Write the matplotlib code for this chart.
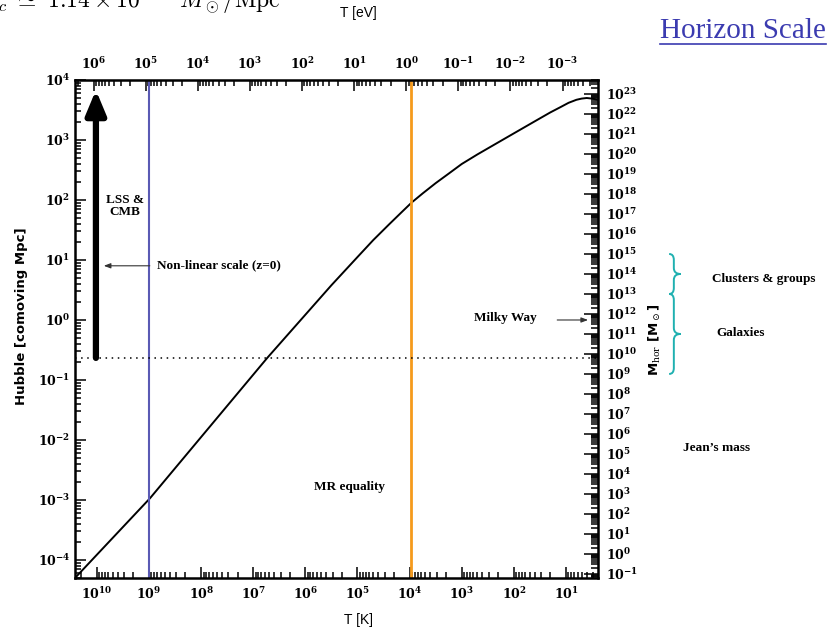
import numpy as np
import matplotlib.pyplot as plt
from matplotlib import ticker, transforms
from matplotlib.path import Path
from matplotlib.patches import PathPatch

# comoving Hubble radius vs temperature
T_K = [2.63e10, 9.55e8, 5.37e6, 3.16e5, 1.0e5, 5.0e4, 2.5e4, 1.41e4, 9.1e3, 5.6e3,
       3.16e3, 1.78e3, 1.0e3, 500, 251, 100, 40, 20, 12.6, 8.9, 6.3, 5.0, 4.0, 3.16, 2.45]
R_hub = [5.0e-5, 1.07e-3, 0.234, 3.8, 11.2, 21.4, 38.9, 63.1, 91, 129,
         191, 275, 398, 575, 813, 1290, 2040, 2880, 3550, 4170, 4680, 4900, 5010, 4900, 4680]

# tick decades shown on each axis
ticks_K = [10.0**i for i in range(1, 11)]
ticks_eV = [10.0**i for i in range(-3, 7)]
ticks_R = [10.0**i for i in range(-4, 5)]
ticks_M = [10.0**i for i in range(-1, 24)]

T_bbn = 1.0e9          # blue line
T_eq = 9.3e3           # orange line, MR equality
R_lss_min = 0.233      # dotted line, smallest scale from LSS & CMB
R_nonlin = 8.0         # non-linear scale today
M_milky = 5e11
cluster_range = (1e13, 1e15)
galaxy_range = (1e9, 1e13)
logk = 11.7            # M_hor = k R^3
K_per_eV = 11605.0

W, H = 827, 632


def fx(x):
    return x / W


def fy(y):
    return 1 - y / H


plt.rcParams['font.family'] = 'DejaVu Serif'
plt.rcParams['mathtext.fontset'] = 'dejavuserif'

fig = plt.figure(figsize=(W / 100, H / 100), dpi=100)
ax = fig.add_axes([fx(75), fy(578), (598 - 75) / W, (578 - 80) / H])

ax.plot(T_K, R_hub, color='k', lw=1.4)
ax.set_xscale('log')
ax.set_yscale('log')
ax.set_xlim(2.63e10, 2.43)
ax.set_ylim(5.0e-5, 1e4)

ax.axvline(T_bbn, color='#5a5ab4', lw=1.5)
ax.axvline(T_eq, color='#f59a1c', lw=2.0)
ax.axhline(R_lss_min, color='k', lw=1.1, ls=(0, (1, 3)))


def lab(v, pos):
    return r'$\mathbf{10^{%d}}$' % int(round(np.log10(v)))


def style_axis(a, ticks):
    a.set_major_locator(ticker.FixedLocator(ticks))
    a.set_minor_locator(ticker.LogLocator(base=10, subs=np.arange(2, 10), numticks=40))
    a.set_major_formatter(ticker.FuncFormatter(lab))
    a.set_minor_formatter(ticker.NullFormatter())


style_axis(ax.xaxis, ticks_K)
style_axis(ax.yaxis, ticks_R)
ax.tick_params(which='both', direction='in', top=False, right=False, labelsize=9, width=1.1)
ax.tick_params(which='major', length=8)
ax.tick_params(which='minor', length=4)
ax.tick_params(axis='x', pad=6)
for s in ax.spines.values():
    s.set_linewidth(1.8)

# top axis in eV
secx = ax.secondary_xaxis('top', functions=(lambda t: t / K_per_eV, lambda e: e * K_per_eV))
style_axis(secx.xaxis, ticks_eV)
secx.tick_params(which='both', direction='in', labelsize=9, width=1.1, pad=6)
secx.tick_params(which='major', length=8)
secx.tick_params(which='minor', length=4)

# right axis: horizon mass
secy = ax.secondary_yaxis('right', functions=(lambda r: 10**logk * r**3,
                                              lambda m: (m / 10**logk)**(1 / 3)))
style_axis(secy.yaxis, ticks_M)
secy.tick_params(which='both', direction='in', labelsize=9, width=1.1, pad=6)
secy.tick_params(which='major', length=10)
secy.tick_params(which='minor', length=5)

# arrows
bl = transforms.blended_transform_factory(ax.transAxes, ax.transData)
ax.annotate('', xy=(0.04, 6.8e3), xytext=(0.04, R_lss_min), xycoords=bl, textcoords=bl,
            arrowprops=dict(arrowstyle='-|>,head_width=0.5,head_length=1.2', lw=4.5,
                            color='k', shrinkA=0, shrinkB=0, mutation_scale=12))
ax.annotate('', xy=(0.055, R_nonlin), xytext=(0.143, R_nonlin), xycoords=bl, textcoords=bl,
            arrowprops=dict(arrowstyle='-|>,head_width=0.15,head_length=0.4', lw=0.8,
                            color='#333333', shrinkA=0, shrinkB=0, mutation_scale=10))
R_milky = (M_milky / 10**logk)**(1 / 3)
ax.annotate('', xy=(0.981, R_milky), xytext=(0.922, R_milky), xycoords=bl, textcoords=bl,
            arrowprops=dict(arrowstyle='-|>,head_width=0.15,head_length=0.4', lw=0.8,
                            color='#333333', shrinkA=0, shrinkB=0, mutation_scale=10))

tf = dict(family='Liberation Serif', weight='bold', fontsize=9.5)
fig.text(fx(125), fy(206), 'LSS &\nCMB', ha='center', va='center', linespacing=1.1, **tf)
fig.text(fx(157), fy(265), 'Non-linear scale (z=0)', ha='left', va='center', **tf)
fig.text(fx(505), fy(318), 'Milky Way', ha='center', va='center', **tf)
fig.text(fx(350), fy(487), 'MR equality', ha='center', va='center', **tf)
fig.text(fx(712), fy(279), 'Clusters & groups', ha='left', va='center', **tf)
fig.text(fx(716), fy(333), 'Galaxies', ha='left', va='center', **tf)
fig.text(fx(683), fy(448), 'Jean\u2019s mass', ha='left', va='center', **tf)


# braces next to the mass axis
def brace(m_lo, m_hi):
    r_lo = (m_lo / 10**logk)**(1 / 3)
    r_hi = (m_hi / 10**logk)**(1 / 3)
    y0 = ax.transAxes.inverted().transform(ax.transData.transform((1, r_lo)))[1]
    y1 = ax.transAxes.inverted().transform(ax.transData.transform((1, r_hi)))[1]
    ym = 0.5 * (y0 + y1)
    x0, xm, x1 = 1.136, 1.145, 1.158
    d = 0.012
    verts = [(x0, y1), (xm, y1), (xm, y1 - d), (xm, ym + d), (xm, ym), (x1, ym),
             (xm, ym), (xm, ym - d), (xm, y0 + d), (xm, y0), (x0, y0)]
    codes = [Path.MOVETO, Path.CURVE3, Path.CURVE3, Path.LINETO, Path.CURVE3, Path.CURVE3,
             Path.CURVE3, Path.CURVE3, Path.LINETO, Path.CURVE3, Path.CURVE3]
    ax.add_patch(PathPatch(Path(verts, codes), transform=ax.transAxes, fc='none',
                           ec='#1fb0b0', lw=1.4, clip_on=False))


brace(*cluster_range)
brace(*galaxy_range)

# axis labels
fig.text(fx(22), fy(316), 'Hubble [comoving Mpc]', rotation=90, ha='center', va='center',
         family='DejaVu Sans', weight='bold', fontsize=9.5)
fig.text(fx(655), fy(340), r'M$_{\rm hor}$ [M$_\odot$]', rotation=90, ha='center', va='center',
         family='DejaVu Sans', weight='bold', fontsize=9.5)
fig.text(fx(358), fy(620), 'T [K]', ha='center', va='center', family='Liberation Sans', fontsize=10)
fig.text(fx(358), fy(13), 'T [eV]', ha='center', va='center', family='Liberation Sans', fontsize=10)

# slide fragments
fig.text(fx(-14), fy(8), r'$\rho_c\ \simeq\ 1.14\times10^{11}\quad M_\odot/{\rm Mpc}^3$',
         ha='left', va='baseline', fontsize=17, math_fontfamily='cm')
fig.text(fx(660), fy(38), 'Horizon Scale', ha='left', va='baseline', family='Liberation Serif',
         fontsize=21, color='#3b3bb0')
fig.add_artist(plt.Line2D([fx(660), fx(826)], [fy(44), fy(44)], color='#3b3bb0', lw=1.2))

fig.savefig('out.png', dpi=100)
